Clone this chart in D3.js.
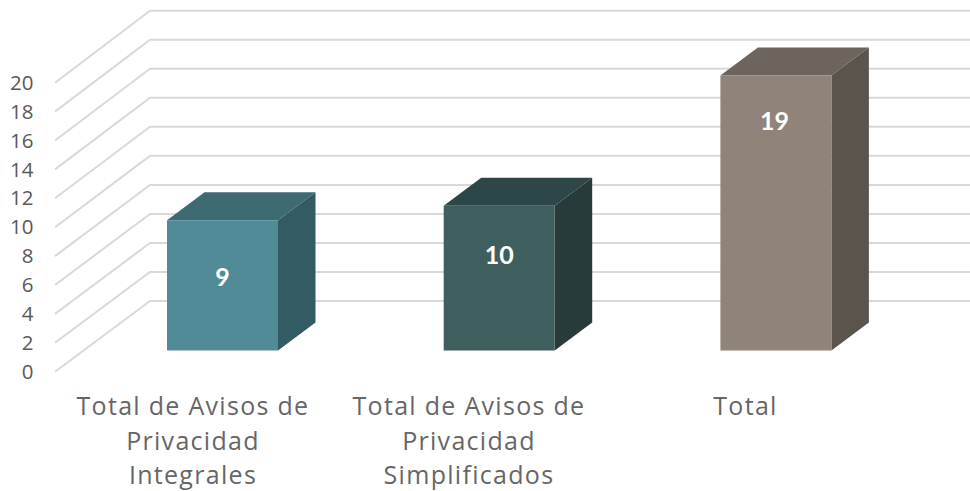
<!DOCTYPE html>
<html>
<head>
<meta charset="utf-8">
<script src="https://cdn.jsdelivr.net/npm/d3@7"></script>
<style>
html,body{margin:0;padding:0;background:#fff}
svg{display:block}
</style>
</head>
<body>
<svg id="c" width="970" height="491"></svg>
<script>
const categories = ["Total de Avisos de Privacidad Integrales","Total de Avisos de Privacidad Simplificados","Total"];
const categoryLines = [["Total de Avisos de","Privacidad","Integrales"],["Total de Avisos de","Privacidad","Simplificados"],["Total"]];
const values = [9,10,19];
const tickValues = [0,2,4,6,8,10,12,14,16,18,20];
const frontColors = ["#518b98","#3f5f5e","#90837a"];
const topColors = ["#3e6b72","#2d4748","#6d645d"];
const sideColors = ["#335b63","#263b3a","#5b544d"];

const svg = d3.select("#c");
const y = d3.scaleLinear().domain([0,20]).range([371.7,82.7]);
const yBack = d3.scaleLinear().domain([0,20]).range([301,10.7]);
const yBar = d3.scaleLinear().domain([0,20]).range([350.5,61]);
const floorDX = 95;
const barW = 111, step = 276.7, barLeft = 167;
const barDX = 37.5, barDY = -28;

const grid = svg.append("g").attr("fill","none").attr("stroke","#d9d9d9").attr("stroke-width",2);
tickValues.forEach(t=>{
  const p = d3.path();
  p.moveTo(55,y(t));
  p.lineTo(55+floorDX,yBack(t));
  p.lineTo(970,yBack(t));
  grid.append("path").attr("d",p.toString());
});

svg.append("g").selectAll("text").data(tickValues).join("text")
  .attr("x",33.5).attr("y",d=>y(d)).attr("dy","0.35em")
  .attr("text-anchor","end")
  .attr("font-family","'Open Sans',sans-serif")
  .attr("font-size",20.5).attr("fill","#595959")
  .text(d=>d);

const bars = svg.append("g").selectAll("g").data(values).join("g");
const bx = i => barLeft + i*step;
const by = v => yBar(v);
const base = by(0);
const poly = pts => pts.map(p=>p.join(",")).join(" ");
bars.append("polygon").attr("fill",(d,i)=>topColors[i])
  .attr("points",(d,i)=>poly([[bx(i),by(d)],[bx(i)+barW,by(d)],[bx(i)+barW+barDX,by(d)+barDY],[bx(i)+barDX,by(d)+barDY]]));
bars.append("polygon").attr("fill",(d,i)=>sideColors[i])
  .attr("points",(d,i)=>poly([[bx(i)+barW,by(d)],[bx(i)+barW+barDX,by(d)+barDY],[bx(i)+barW+barDX,base+barDY],[bx(i)+barW,base]]));
bars.append("rect").attr("fill",(d,i)=>frontColors[i])
  .attr("x",(d,i)=>bx(i)).attr("y",d=>by(d)).attr("width",barW).attr("height",d=>base-by(d));
bars.append("text")
  .attr("x",(d,i)=>bx(i)+barW/2-(d===19?1.5:0))
  .attr("y",d=>by(d)+(d===9?57:(d===10?49:46)))
  .attr("dy","0.35em").attr("text-anchor","middle")
  .attr("font-family","Lato,sans-serif").attr("font-weight",700)
  .attr("font-size",25).attr("fill","#fff")
  .text(d=>d);

const labelCx = [193,469,745.5];
const lab = svg.append("g").selectAll("text").data(categoryLines).join("text")
  .attr("text-anchor","middle")
  .attr("font-family","'Open Sans',sans-serif")
  .attr("font-size",25).attr("letter-spacing",1.3).attr("fill","#666666");
lab.each(function(lines,i){
  d3.select(this).selectAll("tspan").data(lines).join("tspan")
    .attr("x",labelCx[i]).attr("y",(d,j)=>415+j*34.5).text(d=>d);
});
</script>
</body>
</html>
